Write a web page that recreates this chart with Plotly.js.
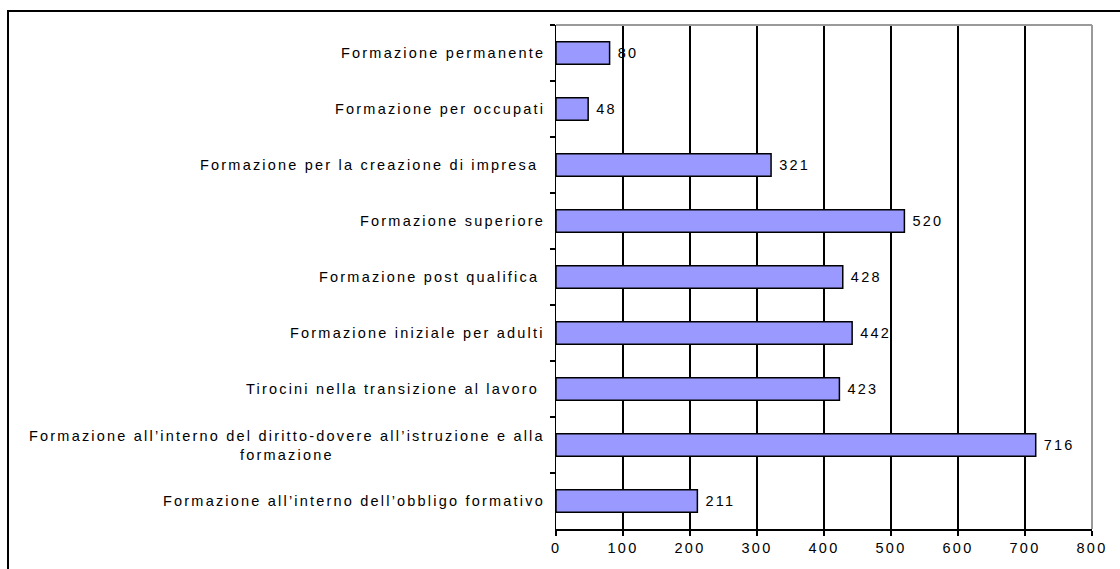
<!DOCTYPE html>
<html>
<head>
<meta charset="utf-8">
<script src="https://cdn.plot.ly/plotly-3.0.1.min.js"></script>
<style>
  html, body { margin: 0; padding: 0; background: #ffffff; }
  #chart { width: 1120px; height: 569px; }
  svg text { letter-spacing: 2.2px; }
</style>
</head>
<body>
<div id="chart"></div>
<script>
// Categories, top to bottom as shown in the chart
const categories = [
  "Formazione permanente",
  "Formazione per occupati",
  "Formazione per la creazione di impresa\u00a0",
  "Formazione superiore",
  "Formazione post qualifica\u00a0",
  "Formazione iniziale per adulti",
  "Tirocini nella transizione al lavoro\u00a0",
  "Formazione all\u2019interno del diritto-dovere all\u2019istruzione e alla<br>formazione",
  "Formazione all\u2019interno dell\u2019obbligo formativo"
];
const values = [80, 48, 321, 520, 428, 442, 423, 716, 211];
const xTickValues = [0, 100, 200, 300, 400, 500, 600, 700, 800];

const FONT = "Liberation Sans, Arial, sans-serif";
const FS = 14.5;

const trace = {
  type: "bar",
  orientation: "h",
  x: values,
  y: categories,
  marker: { color: "#9999FF", line: { color: "#000000", width: 1.5 } },
  text: values.map(v => "\u2009" + v),
  textposition: "outside",
  cliponaxis: false,
  textfont: { family: FONT, size: FS, color: "#000000" },
  hoverinfo: "none"
};

const annotations = categories.map(c => ({
  xref: "paper", yref: "y",
  x: 0, y: c,
  xanchor: "right", yanchor: "middle",
  xshift: -9,
  text: c,
  align: "center",
  showarrow: false,
  font: { family: FONT, size: FS, color: "#000000" }
}));

const plotL = 556, plotR = 1092, plotT = 25, plotB = 529;
const pw = plotR - plotL, ph = plotB - plotT;

const layout = {
  width: 1120,
  height: 569,
  margin: { l: plotL, r: 1120 - plotR, t: plotT, b: 569 - plotB, pad: 0 },
  paper_bgcolor: "#ffffff",
  plot_bgcolor: "#ffffff",
  showlegend: false,
  bargap: 0.6,
  font: { family: FONT, size: FS, color: "#000000" },
  xaxis: {
    range: [0, 800],
    tickvals: xTickValues,
    ticktext: xTickValues.map(String),
    showgrid: true,
    gridcolor: "#000000",
    gridwidth: 2,
    zeroline: false,
    showline: true,
    linecolor: "#000000",
    linewidth: 1.5,
    ticks: "outside",
    ticklen: 5,
    tickwidth: 1.5,
    tickcolor: "#000000",
    tickfont: { family: FONT, size: FS, color: "#000000" },
    fixedrange: true
  },
  yaxis: {
    type: "category",
    autorange: "reversed",
    showticklabels: false,
    tickson: "boundaries",
    ticks: "outside",
    ticklen: 5,
    tickwidth: 1.5,
    tickcolor: "#000000",
    showgrid: false,
    zeroline: false,
    showline: true,
    linecolor: "#000000",
    linewidth: 1.5,
    fixedrange: true
  },
  annotations: annotations,
  shapes: [
    // grey top and right plot border
    { type: "line", xref: "paper", yref: "paper", x0: 0, x1: 1, y0: 1, y1: 1,
      line: { color: "#9a9a9a", width: 2 } },
    { type: "line", xref: "paper", yref: "paper", x0: 1, x1: 1, y0: 0, y1: 1,
      line: { color: "#9a9a9a", width: 2 } },
    // outer chart frame
    { type: "rect", xref: "paper", yref: "paper",
      x0: (8 - plotL) / pw, x1: (1130 - plotL) / pw,
      y0: (plotB - 590) / ph, y1: (plotB - 11) / ph,
      line: { color: "#000000", width: 2 }, fillcolor: "rgba(0,0,0,0)" }
  ]
};

Plotly.newPlot("chart", [trace], layout, { displayModeBar: false, staticPlot: true });
</script>
</body>
</html>
